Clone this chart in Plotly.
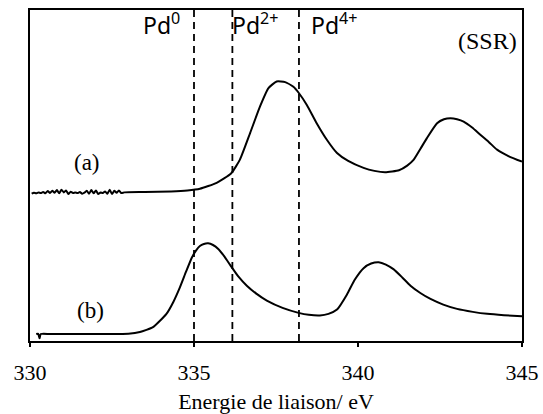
import plotly.graph_objects as go

# Spectrum (a)
a_x = [330.05, 330.12, 330.19, 330.26, 330.33, 330.40, 330.47, 330.54, 330.61, 330.68,
       330.75, 330.82, 330.89, 330.96, 331.03, 331.10, 331.17, 331.24, 331.31, 331.38,
       331.45, 331.52, 331.59, 331.66, 331.73, 331.80, 331.87, 331.94, 332.01, 332.08,
       332.15, 332.22, 332.29, 332.36, 332.43, 332.50, 332.57, 332.64, 332.71, 332.78, 332.88,
       333.5, 334.3, 334.8, 335.18, 335.69, 336.13, 336.40, 336.71, 337.01,
       337.27, 337.52, 337.78, 338.03, 338.19, 338.44, 338.74, 339.05, 339.36, 339.7,
       340.17, 340.5, 340.83, 341.25, 341.5, 341.7, 341.9, 342.1, 342.41, 342.62,
       342.82, 343.02, 343.22, 343.48, 343.73, 344.0, 344.24, 344.6, 345.0]
a_y = [44.5, 44.8, 44.6, 44.9, 44.7, 45.0, 44.6, 45.3, 44.7, 45.4,
       44.8, 45.6, 44.6, 45.7, 44.9, 45.5, 44.4, 45.1, 44.7, 44.9,
       44.7, 45.0, 44.5, 44.8, 45.4, 44.5, 45.6, 44.6, 45.5, 44.4,
       44.9, 44.7, 45.2, 44.5, 45.7, 44.4, 45.4, 44.8, 45.5, 44.7, 44.9,
       45.0, 45.2, 45.5, 46.0, 47.8, 50.6, 54.8, 62.8, 70.8,
       76.4, 78.4, 78.2, 76.8, 75.0, 71.3, 65.8, 60.8, 56.8, 54.4,
       52.3, 51.4, 51.0, 51.6, 53.0, 54.8, 58.0, 61.3, 65.8, 67.0,
       67.3, 67.0, 66.3, 64.5, 62.3, 60.0, 57.8, 55.8, 54.2]

# Spectrum (b)
b_x = [330.19, 330.25, 330.29, 330.33, 330.6, 331.2, 331.8, 332.4, 333.0, 333.35,
       333.75, 334.16, 334.37, 334.57, 334.76, 334.94, 335.06, 335.18, 335.3, 335.43,
       335.58, 335.74, 335.93, 336.12, 336.35, 336.61, 336.9, 337.22, 337.7, 338.19,
       338.5, 338.84, 339.1, 339.36, 339.66, 339.9, 340.17, 340.4, 340.63, 340.85,
       341.08, 341.35, 341.6, 341.9, 342.21, 342.6, 343.02, 343.5, 343.94, 344.45, 345.0]
b_y = [2.1, 2.2, 0.8, 2.1, 2.1, 2.1, 2.1, 2.1, 2.2, 2.7,
       4.2, 8.2, 11.8, 16.2, 21.0, 25.3, 27.3, 28.7, 29.3, 29.5,
       29.0, 27.8, 25.5, 22.7, 19.5, 16.7, 14.3, 12.2, 10.0, 8.5,
       7.9, 7.7, 8.2, 9.5, 14.0, 18.5, 22.0, 23.4, 23.8, 23.1,
       21.7, 19.2, 16.7, 14.5, 12.7, 11.0, 9.7, 8.8, 8.2, 7.8, 7.5]

# Reference binding energies
ref_energies = [335.0, 336.17, 338.2]
ref_labels = ["Pd<sup>0</sup>", "Pd<sup>2+</sup>", "Pd<sup>4+</sup>"]
ref_label_x = [333.38, 336.1, 338.5]

x_ticks = [330, 335, 340, 345]

serif = "Liberation Serif, Times New Roman, serif"
sans = "Noto Sans, Open Sans, sans-serif"

fig = go.Figure()
for xs, ys in ((a_x, a_y), (b_x, b_y)):
    fig.add_trace(go.Scatter(x=xs, y=ys, mode="lines",
                             line=dict(color="black", width=2, shape="spline", smoothing=0.5),
                             hoverinfo="skip", showlegend=False))

for e in ref_energies:
    fig.add_shape(type="line", xref="x", yref="paper", x0=e, x1=e, y0=0, y1=1,
                  line=dict(color="black", width=1.8, dash="7px,5px"))

for lx, lab in zip(ref_label_x, ref_labels):
    fig.add_annotation(x=lx, y=0.90, xref="x", yref="paper", text=lab, showarrow=False,
                       xanchor="left", yanchor="bottom",
                       font=dict(family=sans, size=23, color="black"))

fig.add_annotation(x=344.9, y=0.905, xref="x", yref="paper", text="(SSR)", showarrow=False,
                   xanchor="right", yanchor="middle",
                   font=dict(family=serif, size=24, color="black"))
fig.add_annotation(x=331.74, y=54.0, xref="x", yref="y", text="(a)", showarrow=False,
                   xanchor="center", yanchor="middle",
                   font=dict(family=serif, size=23, color="black"))
fig.add_annotation(x=331.85, y=9.3, xref="x", yref="y", text="(b)", showarrow=False,
                   xanchor="center", yanchor="middle",
                   font=dict(family=serif, size=23, color="black"))

fig.update_layout(
    width=543, height=414,
    margin=dict(l=30, r=21, t=10, b=73),
    paper_bgcolor="white", plot_bgcolor="white",
    xaxis=dict(range=[330, 345], tickvals=x_ticks, ticktext=[str(t) for t in x_ticks],
               showgrid=False, zeroline=False, showline=True, linecolor="black", linewidth=2,
               mirror=True, ticks="outside", ticklen=4, tickwidth=2, tickcolor="black",
               ticklabelstandoff=7, automargin=False,
               tickfont=dict(family=serif, size=22, color="black"),
               title=dict(text="Energie de liaison/ eV", standoff=12,
                          font=dict(family=serif, size=22, color="black"))),
    yaxis=dict(range=[0, 100], showticklabels=False, ticks="", showgrid=False, zeroline=False,
               showline=True, linecolor="black", linewidth=2, mirror=True, automargin=False),
)

fig.write_html("out.html", config={"displayModeBar": False},
               post_script="document.body.style.margin='0';")
